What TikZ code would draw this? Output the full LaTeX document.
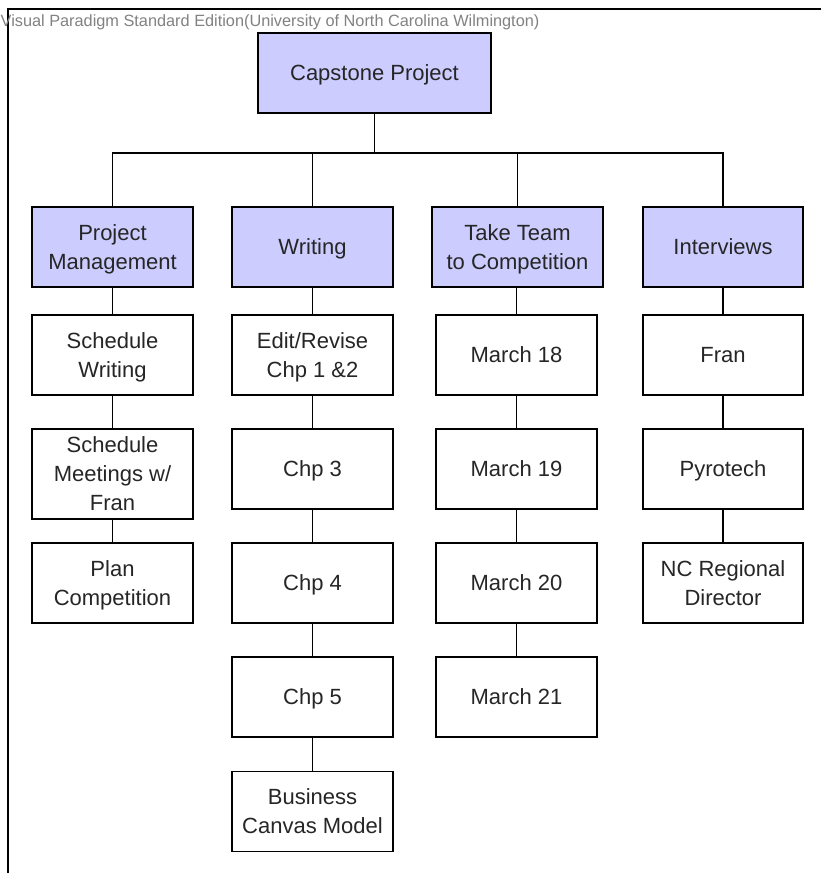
\documentclass[tikz,border=0pt]{standalone}
\usepackage{fontspec}
\setmainfont{Liberation Sans}
\definecolor{vpfill}{RGB}{204,204,255}
\definecolor{wmgray}{RGB}{130,130,130}
\tikzset{
  box/.style={draw=black, line width=1.3pt, fill=white, inner sep=0pt, align=center,
    font=\fontsize{22}{29}\selectfont, text=black!85, text depth=0pt},
  topbox/.style={box, fill=vpfill},
  conn/.style={draw=black, line width=1.4pt},
  frameline/.style={draw=black, line width=2pt}
}
\begin{document}
\begin{tikzpicture}[x=1pt,y=-1pt]
\useasboundingbox (0,0) rectangle (821,873);
\fill[white] (0,0) rectangle (821,873);
% frame
\draw[frameline] (821,9) -- (8,9) -- (8,873);
\node[anchor=base west, inner sep=0pt, text=wmgray, font=\fontsize{16.3}{18}\selectfont] (wm) at (0.5,26) {Visual Paradigm Standard Edition(University of North Carolina Wilmington)};

% root
\node[topbox, minimum width=233pt, minimum height=80pt] (cap) at (374.5,73) {Capstone Project};

% level 1
\node[topbox, minimum width=161pt, minimum height=80pt] (pm) at (112.5,247) {Project\\Management};
\node[topbox, minimum width=161pt, minimum height=80pt] (wr) at (312.5,247) {Writing};
\node[topbox, minimum width=171pt, minimum height=80pt] (tt) at (517.5,247) {Take Team\\to Competition};
\node[topbox, minimum width=160pt, minimum height=80pt] (iv) at (723,247) {Interviews};

% project management column
\node[box, minimum width=161pt, minimum height=80pt] (sw) at (112.5,355) {Schedule\\Writing};
\node[box, minimum width=161pt, minimum height=90pt] (sm) at (112.5,474) {Schedule\\Meetings w/\\Fran};
\node[box, minimum width=161pt, minimum height=80pt] (pc) at (112.5,583) {Plan\\Competition};

% writing column
\node[box, minimum width=161pt, minimum height=80pt] (er) at (312.5,355) {Edit/Revise\\Chp 1 \&2};
\node[box, minimum width=161pt, minimum height=80pt] (c3) at (312.5,469) {Chp 3};
\node[box, minimum width=161pt, minimum height=80pt] (c4) at (312.5,583) {Chp 4};
\node[box, minimum width=161pt, minimum height=80pt] (c5) at (312.5,697) {Chp 5};
\node[box, minimum width=161pt, minimum height=80pt] (bc) at (312.5,811.5) {Business\\Canvas Model};

% take team column
\node[box, minimum width=161pt, minimum height=80pt] (m18) at (516.5,355) {March 18};
\node[box, minimum width=161pt, minimum height=80pt] (m19) at (516.5,469) {March 19};
\node[box, minimum width=161pt, minimum height=80pt] (m20) at (516.5,583) {March 20};
\node[box, minimum width=161pt, minimum height=80pt] (m21) at (516.5,697) {March 21};

% interviews column
\node[box, minimum width=160pt, minimum height=80pt] (fr) at (723,355) {Fran};
\node[box, minimum width=160pt, minimum height=80pt] (py) at (723,469) {Pyrotech};
\node[box, minimum width=160pt, minimum height=80pt] (nc) at (723,583) {NC Regional\\Director};

% connectors
\coordinate (bus) at (374.5,153);
\draw[conn] (cap.south) -- (bus);
\draw[conn] (bus) -| (pm.north);
\draw[conn] (bus) -| (wr.north);
\draw[conn] (bus) -| (tt.north);
\draw[conn] (bus) -| (iv.north);

\draw[conn] (pm.south) -- (sw.north);
\draw[conn] (sw.south) -- (sm.north);
\draw[conn] (sm.south) -- (pc.north);

\draw[conn] (wr.south) -- (er.north);
\draw[conn] (er.south) -- (c3.north);
\draw[conn] (c3.south) -- (c4.north);
\draw[conn] (c4.south) -- (c5.north);
\draw[conn] (c5.south) -- (bc.north);

\draw[conn] (tt.south -| m18.north) -- (m18.north);
\draw[conn] (m18.south) -- (m19.north);
\draw[conn] (m19.south) -- (m20.north);
\draw[conn] (m20.south) -- (m21.north);

\draw[conn] (iv.south) -- (fr.north);
\draw[conn] (fr.south) -- (py.north);
\draw[conn] (py.south) -- (nc.north);
\end{tikzpicture}
\end{document}
